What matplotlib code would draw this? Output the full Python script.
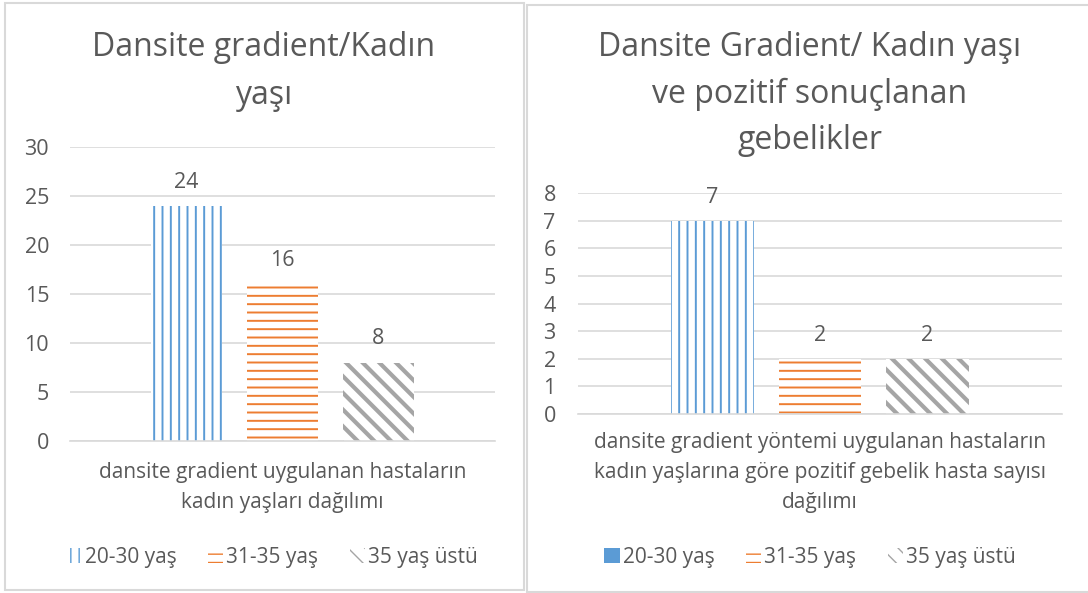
import matplotlib
matplotlib.use("Agg")
import matplotlib.pyplot as plt
from matplotlib.patches import Patch, Rectangle

plt.rcParams['font.family'] = ['Open Sans', 'DejaVu Sans']

# Veriler
seriler = ['20-30 yaş', '31-35 yaş', '35 yaş üstü']
sol_degerler = [24, 16, 8]
sag_degerler = [7, 2, 2]

sol_baslik = 'Dansite gradient/Kadın\nyaşı'
sag_baslik = 'Dansite Gradient/ Kadın yaşı\nve pozitif sonuçlanan\ngebelikler'
sol_kategori = 'dansite gradient uygulanan hastaların\nkadın yaşları dağılımı'
sag_kategori = ('dansite gradient yöntemi uygulanan hastaların\n'
                'kadın yaşlarına göre pozitif gebelik hasta sayısı\ndağılımı')
sol_yticks = [0, 5, 10, 15, 20, 25, 30]
sag_yticks = [0, 1, 2, 3, 4, 5, 6, 7, 8]

renkler = ['#5B9BD5', '#ED7D31', '#A5A5A5']
taramalar = ['||', '--', '\\\\']
tarama_kalinlik = [1.4, 1.4, 3.0]
yazi = '#595959'
izgara = '#D9D9D9'

W, H = 1088, 593
fig = plt.figure(figsize=(W / 100, H / 100), dpi=100)


def eksen(x0, y0, x1, y1):
    # piksel koordinatlarindan eksen olustur
    return fig.add_axes([x0 / W, 1 - y1 / H, (x1 - x0) / W, (y1 - y0) / H])


def cubuk_ciz(ax, degerler, aralik, genislik, ust, yticks, kategori, pad, xpad):
    for i, (d, r, t, lw) in enumerate(zip(degerler, renkler, taramalar, tarama_kalinlik)):
        with plt.rc_context({'hatch.linewidth': lw}):
            ax.bar(0.5 + (i - 1) * aralik, d, width=genislik, color='white',
                   edgecolor=r, hatch=t, linewidth=0)
        ax.annotate(str(d), (0.5 + (i - 1) * aralik, d), xytext=(0, 17),
                    textcoords='offset points', ha='center', va='center',
                    fontsize=15.5, color=yazi)
    ax.set_xlim(0, 1)
    ax.set_ylim(0, ust)
    ax.set_yticks(yticks)
    ax.set_xticks([0.5])
    ax.set_xticklabels([kategori], fontsize=15, color=yazi, linespacing=1.55)
    ax.tick_params(axis='y', length=0, pad=pad, labelsize=15.5, labelcolor=yazi)
    ax.tick_params(axis='x', length=0, pad=xpad)
    ax.grid(axis='y', color=izgara, linewidth=1.2)
    ax.set_axisbelow(True)
    for s in ['top', 'right', 'left']:
        ax.spines[s].set_visible(False)
    ax.spines['bottom'].set_color(izgara)
    ax.spines['bottom'].set_linewidth(1.2)


# Cerceveler
fig.patches.append(Rectangle((5 / W, 1 - 590 / H), 519 / W, 587 / H, transform=fig.transFigure,
                             facecolor='white', edgecolor=izgara, linewidth=1.5, zorder=-1))
fig.patches.append(Rectangle((527 / W, 1 - 592 / H), 565 / W, 587 / H, transform=fig.transFigure,
                             facecolor='white', edgecolor=izgara, linewidth=1.5, zorder=-1))

ax1 = eksen(70, 147, 495, 441)
cubuk_ciz(ax1, sol_degerler, 0.226, 0.165, 30, sol_yticks, sol_kategori, 15, 15)

ax2 = eksen(578, 193, 1062, 414)
cubuk_ciz(ax2, sag_degerler, 0.222, 0.17, 8, sag_yticks, sag_kategori, 16, 13)

# Basliklar
fig.text(264 / W, 1 - 72 / H, sol_baslik, ha='center', va='center', fontsize=23,
         color=yazi, linespacing=1.6)
fig.text(810 / W, 1 - 94 / H, sag_baslik, ha='center', va='center', fontsize=23,
         color=yazi, linespacing=1.52)


# Lejantlar
def lejant_tutamaclari(ilk_dolu):
    h = []
    for i, (r, t, lw) in enumerate(zip(renkler, taramalar, tarama_kalinlik)):
        with plt.rc_context({'hatch.linewidth': lw}):
            if i == 0 and ilk_dolu:
                h.append(Patch(facecolor=r, edgecolor=r, linewidth=0))
            else:
                h.append(Patch(facecolor='white', edgecolor=r, hatch=t, linewidth=0))
    return h


for hx, dolu in [(272, False), (810, True)]:
    fig.legend(handles=lejant_tutamaclari(dolu), labels=seriler, loc='center',
               bbox_to_anchor=(hx / W, 1 - 557 / H), ncol=3, frameon=False,
               fontsize=15, labelcolor=yazi, handlelength=0.75, handleheight=0.75,
               handletextpad=0.15, columnspacing=1.5)

fig.savefig('out.png', dpi=100, facecolor='white')
